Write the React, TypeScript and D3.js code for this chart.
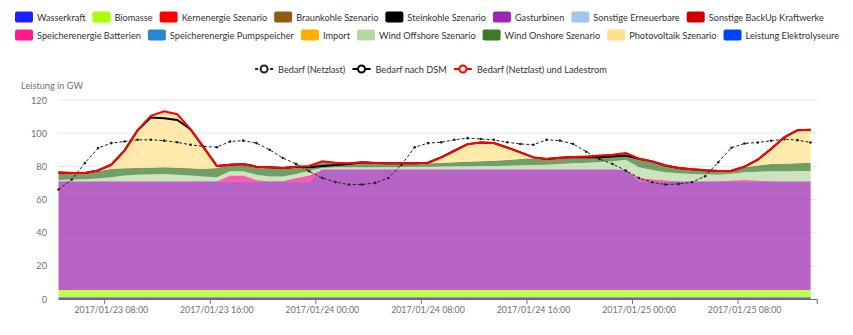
import React, { useEffect, useMemo } from 'react';
import * as d3 from 'd3';

const W = 853;
const H = 335;

// ---- time axis (hourly categories) ----
const firstTime = new Date(2017, 0, 23, 4, 0);
const lastTime = new Date(2017, 0, 25, 13, 0);
const N = 58;

// ---- stacked series (GW) ----
const wasserkraft = [
  1.0, 1.0, 1.0, 1.0, 1.0, 1.0, 1.0, 1.0, 1.0, 1.0,
  1.0, 1.0, 1.0, 1.0, 1.0, 1.0, 1.0, 1.0, 1.0, 1.0,
  1.0, 1.0, 1.0, 1.0, 1.0, 1.0, 1.0, 1.0, 1.0, 1.0,
  1.0, 1.0, 1.0, 1.0, 1.0, 1.0, 1.0, 1.0, 1.0, 1.0,
  1.0, 1.0, 1.0, 1.0, 1.0, 1.0, 1.0, 1.0, 1.0, 1.0,
  1.0, 1.0, 1.0, 1.0, 1.0, 1.0, 1.0, 1.0,
];
const biomasse = [
  4.4, 4.4, 4.4, 4.4, 4.4, 4.4, 4.4, 4.4, 4.4, 4.4,
  4.4, 4.4, 4.4, 4.4, 4.4, 4.4, 4.4, 4.4, 4.4, 4.4,
  4.4, 4.4, 4.4, 4.4, 4.4, 4.4, 4.4, 4.4, 4.4, 4.4,
  4.4, 4.4, 4.4, 4.4, 4.4, 4.4, 4.4, 4.4, 4.4, 4.4,
  4.4, 4.4, 4.4, 4.4, 4.4, 4.4, 4.4, 4.4, 4.4, 4.4,
  4.4, 4.4, 4.4, 4.4, 4.4, 4.4, 4.4, 4.4,
];
const gasturbinen = [
  65.6, 65.6, 65.6, 65.6, 65.6, 65.6, 65.6, 65.6, 65.6, 65.6,
  65.6, 65.6, 65.6, 65.6, 65.6, 65.6, 65.6, 65.6, 65.6, 65.6,
  72.8, 72.8, 72.8, 72.8, 72.8, 72.8, 72.8, 72.8, 72.8, 72.8,
  72.8, 72.8, 72.8, 72.8, 72.8, 72.8, 72.8, 72.8, 72.8, 72.8,
  72.8, 72.8, 72.8, 72.6, 65.6, 65.6, 65.6, 65.6, 65.6, 65.6,
  65.6, 65.6, 65.6, 65.6, 65.6, 65.6, 65.6, 65.6,
];
const batterien = [
  0, 0, 0, 0, 0, 0, 0, 0, 0, 0,
  0, 0, 0, 3.4, 3.4, 0.8, 0, 0.2, 2.0, 3.4,
  0, 0, 0, 0, 0, 0, 0, 0, 0, 0,
  0, 0, 0, 0, 0, 0, 0, 0, 0, 0,
  0, 0, 0, 0, 1.8, 1.2, 0.6, 0, 0, 0,
  0, 0.4, 0.8, 0.4, 0, 0, 0, 0,
];
const windOffshore = [
  0.8, 1.0, 1.2, 1.6, 2.4, 3.4, 4.0, 4.2, 4.4, 4.0,
  3.4, 2.8, 2.4, 2.6, 2.6, 3.2, 2.8, 2.6, 2.4, 3.0,
  0.8, 1.2, 1.2, 1.2, 1.2, 1.3, 1.4, 1.5, 1.6, 1.7,
  1.8, 1.8, 2.0, 2.0, 2.2, 2.4, 2.6, 2.8, 3.2, 3.6,
  4.0, 4.4, 4.8, 6.0, 6.6, 5.6, 4.8, 4.8, 4.4, 4.2,
  4.0, 4.2, 4.6, 5.4, 6.0, 6.0, 6.2, 6.2,
];
const windOnshore = [
  4.4, 4.0, 3.8, 4.4, 5.0, 4.4, 4.0, 4.0, 4.0, 4.2,
  4.4, 4.6, 5.6, 4.0, 4.4, 4.8, 5.6, 5.2, 4.4, 2.8,
  4.0, 2.8, 2.4, 3.0, 2.6, 2.3, 2.2, 2.1, 2.0, 2.1,
  2.4, 2.8, 2.8, 3.2, 3.4, 3.8, 4.0, 3.4, 3.8, 3.8,
  3.8, 3.9, 4.0, 4.0, 5.2, 5.2, 4.1, 3.2, 2.8, 2.4,
  2.2, 1.8, 3.0, 3.7, 4.4, 4.6, 4.6, 5.0,
];
const photovoltaik = [
  0, 0, 0, 0.5, 2.6, 10.7, 22.8, 31.2, 33.8, 32.2,
  23.6, 13.0, 1.2, 0, 0, 0, 0, 0, 0, 0,
  0, 0, 0, 0, 0, 0, 0, 0, 0.4, 3.4,
  7.0, 10.6, 11.4, 10.6, 7.6, 4.0, 0.6, 0, 0, 0,
  0, 0, 0, 0, 0, 0, 0, 0, 0, 0,
  0, 0, 0.4, 3.5, 9.1, 15.9, 20.0, 19.8,
];

// ---- line series (GW) ----
const bedarfNetzlast = [
  66, 72, 82, 91, 94, 95, 96, 96, 95.5, 94.5,
  93, 92, 91.5, 95, 95.5, 94, 90, 85, 81.5, 77,
  73, 70.5, 69, 69, 70, 73, 81, 91.5, 94, 94.5,
  96, 97, 96.5, 96, 94.5, 93.5, 93, 96, 95.5, 93.5,
  88.8, 84.4, 81.4, 77.4, 73, 70.4, 69, 69.4, 70.4, 74,
  82.5, 91.2, 93.8, 94.4, 95.4, 96.4, 95.8, 94.4,
];
const bedarfDSM = [
  76.3, 76, 76, 77.5, 81, 89.5, 101.8, 109.4, 109, 108,
  102.4, 91.4, 80.2, 81, 81.4, 79.8, 79.4, 79, 79.8, 79.5,
  80.2, 80.8, 81.4, 82.4, 82, 81.8, 81.8, 81.8, 82.2, 85.4,
  89.4, 93.4, 94.4, 94, 91.4, 88.4, 85.4, 84.4, 85.2, 85.6,
  85.5, 85.5, 86, 86.5, 84.6, 83, 80.5, 79, 78.2, 77.6,
  77.2, 77.4, 79.8, 84, 90.5, 97.5, 101.8, 102,
];
const bedarfLadestrom = [
  76.3, 76, 76, 77.5, 81, 89.5, 101.8, 110.4, 113.2, 111.4,
  102.4, 91.4, 80.2, 81, 81.4, 79.8, 79.4, 79, 79.8, 80.2,
  83, 82.2, 81.8, 82.4, 82, 81.8, 81.8, 81.8, 82.2, 85.4,
  89.4, 93.4, 94.4, 94, 91.4, 88.4, 85.4, 84.4, 85.2, 85.6,
  86, 86.5, 87, 88, 84.6, 83, 80.5, 79, 78.2, 77.6,
  77.2, 77.4, 79.8, 84, 90.5, 97.5, 101.8, 102,
];

const yTicks = [0, 20, 40, 60, 80, 100, 120];

// ---- legend definitions ----
const legendRow1 = [
  { name: 'Wasserkraft', color: '#1e1eff' },
  { name: 'Biomasse', color: '#aaff00' },
  { name: 'Kernenergie Szenario', color: '#ff0000' },
  { name: 'Braunkohle Szenario', color: '#8f5c14' },
  { name: 'Steinkohle Szenario', color: '#000000' },
  { name: 'Gasturbinen', color: '#9c27b0' },
  { name: 'Sonstige Erneuerbare', color: '#a0c6ec' },
  { name: 'Sonstige BackUp Kraftwerke', color: '#cc0000' },
];
const legendRow2 = [
  { name: 'Speicherenergie Batterien', color: '#ff1a8c' },
  { name: 'Speicherenergie Pumpspeicher', color: '#2a86d1' },
  { name: 'Import', color: '#ffae00' },
  { name: 'Wind Offshore Szenario', color: '#b5d9a5' },
  { name: 'Wind Onshore Szenario', color: '#3a7a2b' },
  { name: 'Photovoltaik Szenario', color: '#ffe08a' },
  { name: 'Leistung Elektrolyseure', color: '#0044ff' },
];
const lineLegend = [
  { name: 'Bedarf (Netzlast)', color: '#222222', dash: '3,2' },
  { name: 'Bedarf nach DSM', color: '#000000', dash: '' },
  { name: 'Bedarf (Netzlast) und Ladestrom', color: '#ff0000', dash: '' },
];

const stackKeys = [
  { key: 'wasserkraft', values: wasserkraft, color: '#1e1eff' },
  { key: 'biomasse', values: biomasse, color: '#aaff00' },
  { key: 'gasturbinen', values: gasturbinen, color: '#9c27b0' },
  { key: 'batterien', values: batterien, color: '#ff1a8c' },
  { key: 'windOffshore', values: windOffshore, color: '#b5d9a5' },
  { key: 'windOnshore', values: windOnshore, color: '#3a7a2b' },
  { key: 'photovoltaik', values: photovoltaik, color: '#ffe08a' },
];

const FONT = 'Lato, "Open Sans", sans-serif';
const FS = 9.2;

function measure(text: string, size: number) {
  const c = document.createElement('canvas').getContext('2d');
  if (!c) return text.length * size * 0.5;
  c.font = `${size}px Lato`;
  return c.measureText(text).width;
}

export default function App() {
  useEffect(() => {
    document.body.style.margin = '0';
  }, []);

  const times = useMemo(() => d3.timeHour.range(firstTime, d3.timeHour.offset(lastTime, 1)), []);

  const x = d3.scaleTime().domain([firstTime, lastTime]).range([58.5, 810.6]);
  const y = d3.scaleLinear().domain([0, 120]).range([299, 100]);
  const xLeft = x(firstTime);
  const xRight = x(d3.timeMinute.offset(lastTime, 30));

  const table = times.map((t, i) => {
    const row: any = { t };
    stackKeys.forEach((s) => (row[s.key] = s.values[i]));
    return row;
  });
  const stacked = d3.stack<any>().keys(stackKeys.map((s) => s.key))(table);
  const area = d3
    .area<any>()
    .x((d) => x(d.data.t))
    .y0((d) => y(d[0]))
    .y1((d) => y(d[1]));

  const lineGen = (vals: number[]) =>
    d3
      .line<number>()
      .x((_, i) => x(times[i]))
      .y((d) => y(d))(vals) || '';

  const labelTimes = times.filter((t) => t.getHours() % 8 === 0);
  const fmt = d3.timeFormat('%Y/%m/%d %H:%M');

  // legend layout
  const layoutRow = (items: { name: string; color: string }[], y0: number) => {
    let cx = 15;
    return items.map((it) => {
      const tw = measure(it.name, FS);
      const g = { ...it, x: cx, y: y0, tw };
      cx += 18 + 4 + tw + 7;
      return g;
    });
  };
  const row1 = layoutRow(legendRow1, 17);
  const row2 = layoutRow(legendRow2, 35);

  const lineItems = (() => {
    const widths = lineLegend.map((l) => 18 + 5 + measure(l.name, FS));
    const total = widths.reduce((a, b) => a + b, 0) + 7 * (lineLegend.length - 1);
    let cx = 431 - total / 2;
    return lineLegend.map((l, i) => {
      const g = { ...l, x: cx };
      cx += widths[i] + 7;
      return g;
    });
  })();

  return (
    <svg
      width={W}
      height={H}
      style={{ position: 'absolute', left: 0, top: 0, fontFamily: FONT }}
    >
      <rect width={W} height={H} fill="#fff" />
      {/* grid */}
      {yTicks.map((t) => (
        <g key={t}>
          {t > 0 && <line x1={xLeft} x2={xRight} y1={y(t)} y2={y(t)} stroke="#e0e6f1" strokeWidth={1} />}
          <text x={47} y={y(t)} textAnchor="end" dominantBaseline="central" fontSize={FS} fill="#6e7079">
            {t}
          </text>
        </g>
      ))}
      <text x={21} y={85} fontSize={FS} fill="#6e7079" dominantBaseline="central">
        Leistung in GW
      </text>

      {/* stacked areas */}
      {stacked.map((s, i) => (
        <path key={s.key} d={area(s) || ''} fill={stackKeys[i].color} fillOpacity={0.72} stroke="none" />
      ))}

      {/* lines */}
      <path d={lineGen(bedarfNetzlast)} fill="none" stroke="#222" strokeWidth={1} strokeDasharray="3,2" />
      {bedarfNetzlast.map((v, i) => (
        <circle key={i} cx={x(times[i])} cy={y(v)} r={1.3} fill="#222" />
      ))}
      <path d={lineGen(bedarfDSM)} fill="none" stroke="#000" strokeWidth={2} />
      <path d={lineGen(bedarfLadestrom)} fill="none" stroke="#ff0000" strokeWidth={2} />

      {/* x axis */}
      <line x1={xLeft} x2={xRight} y1={299.5} y2={299.5} stroke="#6e7079" strokeWidth={1} />
      {labelTimes.map((t) => {
        const tickX = x(d3.timeMinute.offset(t, -30));
        return (
          <g key={+t}>
            <line x1={tickX} x2={tickX} y1={299.5} y2={304} stroke="#6e7079" />
            <text x={x(t)} y={309} textAnchor="middle" dominantBaseline="central" fontSize={8.8} fill="#6e7079">
              {fmt(t)}
            </text>
          </g>
        );
      })}
      <line x1={xRight} x2={xRight} y1={299.5} y2={304} stroke="#6e7079" />

      {/* legend rows */}
      {[...row1, ...row2].map((it) => (
        <g key={it.name}>
          <rect x={it.x} y={it.y - 5.5} width={18} height={11} rx={2} fill={it.color} />
          <text x={it.x + 22} y={it.y} dominantBaseline="central" fontSize={FS} fill="#333">
            {it.name}
          </text>
        </g>
      ))}
      {lineItems.map((it) => (
        <g key={it.name}>
          <line x1={it.x} x2={it.x + 18} y1={69} y2={69} stroke={it.color} strokeWidth={2} strokeDasharray={it.dash || undefined} />
          <circle cx={it.x + 9} cy={69} r={3.5} fill="#fff" stroke={it.color} strokeWidth={2} />
          <text x={it.x + 23} y={69} dominantBaseline="central" fontSize={FS} fill="#333">
            {it.name}
          </text>
        </g>
      ))}
    </svg>
  );
}
